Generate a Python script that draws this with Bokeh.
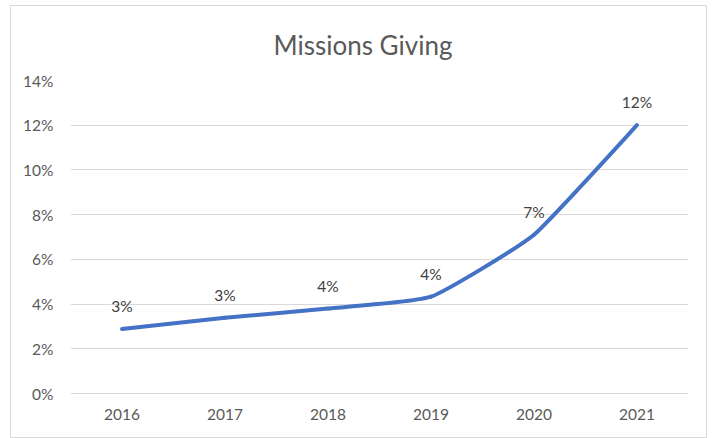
import numpy as np
from bokeh.plotting import figure
from bokeh.models import Range1d, FixedTicker, PrintfTickFormatter, Title, ColumnDataSource
from bokeh.core.properties import value
from bokeh.embed import file_html
from bokeh.resources import INLINE

# ---- data ----
years = ["2016", "2017", "2018", "2019", "2020", "2021"]
giving_pct = [2.88, 3.39, 3.80, 4.33, 7.10, 12.00]
point_labels = ["3%", "3%", "4%", "4%", "7%", "12%"]
y_ticks = [0, 2, 4, 6, 8, 10, 12, 14]
title_text = "Missions Giving"

FONT = "Lato"
LINE_COLOR = "#4472C4"
GRID = "#D9D9D9"
TICK_TEXT = "#595959"

p = figure(width=697, height=433, output_backend="svg", toolbar_location=None,
           x_range=Range1d(-0.5, len(years) - 0.5), y_range=Range1d(0, 14),
           min_border_left=59, min_border_right=20, min_border_top=74, min_border_bottom=46,
           styles={"border": "1px solid #D9D9D9", "margin-left": "10px", "margin-top": "5px"})
p.outline_line_color = None
p.background_fill_color = "white"
p.border_fill_color = "white"

# axes
xs = list(range(len(years)))
p.xaxis.ticker = FixedTicker(ticks=xs)
p.xaxis.major_label_overrides = {i: y for i, y in enumerate(years)}
p.yaxis.ticker = FixedTicker(ticks=y_ticks)
p.yaxis.formatter = PrintfTickFormatter(format="%d%%")
for ax in (p.xaxis, p.yaxis):
    ax.major_tick_line_color = None
    ax.minor_tick_line_color = None
    ax.major_tick_out = 0
    ax.major_tick_in = 0
    ax.major_label_text_font = FONT
    ax.major_label_text_font_size = "15.5px"
    ax.major_label_text_color = TICK_TEXT
p.xaxis.axis_line_color = GRID
p.yaxis.axis_line_color = None
p.xaxis.major_label_standoff = 15
p.yaxis.major_label_standoff = 17
p.xgrid.grid_line_color = None
p.ygrid.grid_line_color = GRID
p.ygrid.ticker = FixedTicker(ticks=y_ticks)

# lightly smoothed line (Catmull-Rom style Bezier), computed from the data
pts = np.column_stack([np.array(xs, dtype=float), np.array(giving_pct)])
n = len(pts)
k = 1.0 / 14.0
x0, y0, x1, y1, cx0, cy0, cx1, cy1 = ([] for _ in range(8))
for i in range(n - 1):
    P0 = pts[i - 1] if i > 0 else pts[i]
    P1 = pts[i]
    P2 = pts[i + 1]
    P3 = pts[i + 2] if i + 2 < n else pts[i + 1]
    c1 = P1 + (P2 - P0) * k
    c2 = P2 - (P3 - P1) * k
    x0.append(P1[0]); y0.append(P1[1]); x1.append(P2[0]); y1.append(P2[1])
    cx0.append(c1[0]); cy0.append(c1[1]); cx1.append(c2[0]); cy1.append(c2[1])
bez = ColumnDataSource(dict(x0=x0, y0=y0, x1=x1, y1=y1, cx0=cx0, cy0=cy0, cx1=cx1, cy1=cy1))
p.bezier(x0="x0", y0="y0", x1="x1", y1="y1", cx0="cx0", cy0="cy0", cx1="cx1", cy1="cy1",
         source=bez, line_color=LINE_COLOR, line_width=4, line_cap="round")

# data labels
lab = ColumnDataSource(dict(x=xs, y=giving_pct, t=point_labels))
p.text(x="x", y="y", text="t", source=lab, text_font=value(FONT), text_font_size="15.5px",
       text_color="#404040", text_align="center", text_baseline="middle", y_offset=-23)

# title
p.add_layout(Title(text=title_text, align="left", offset=203, standoff=40,
                   text_font=FONT, text_font_size="26px", text_color=TICK_TEXT,
                   text_font_style="normal"), "above")

open("out.html", "w").write(file_html(p, INLINE))
